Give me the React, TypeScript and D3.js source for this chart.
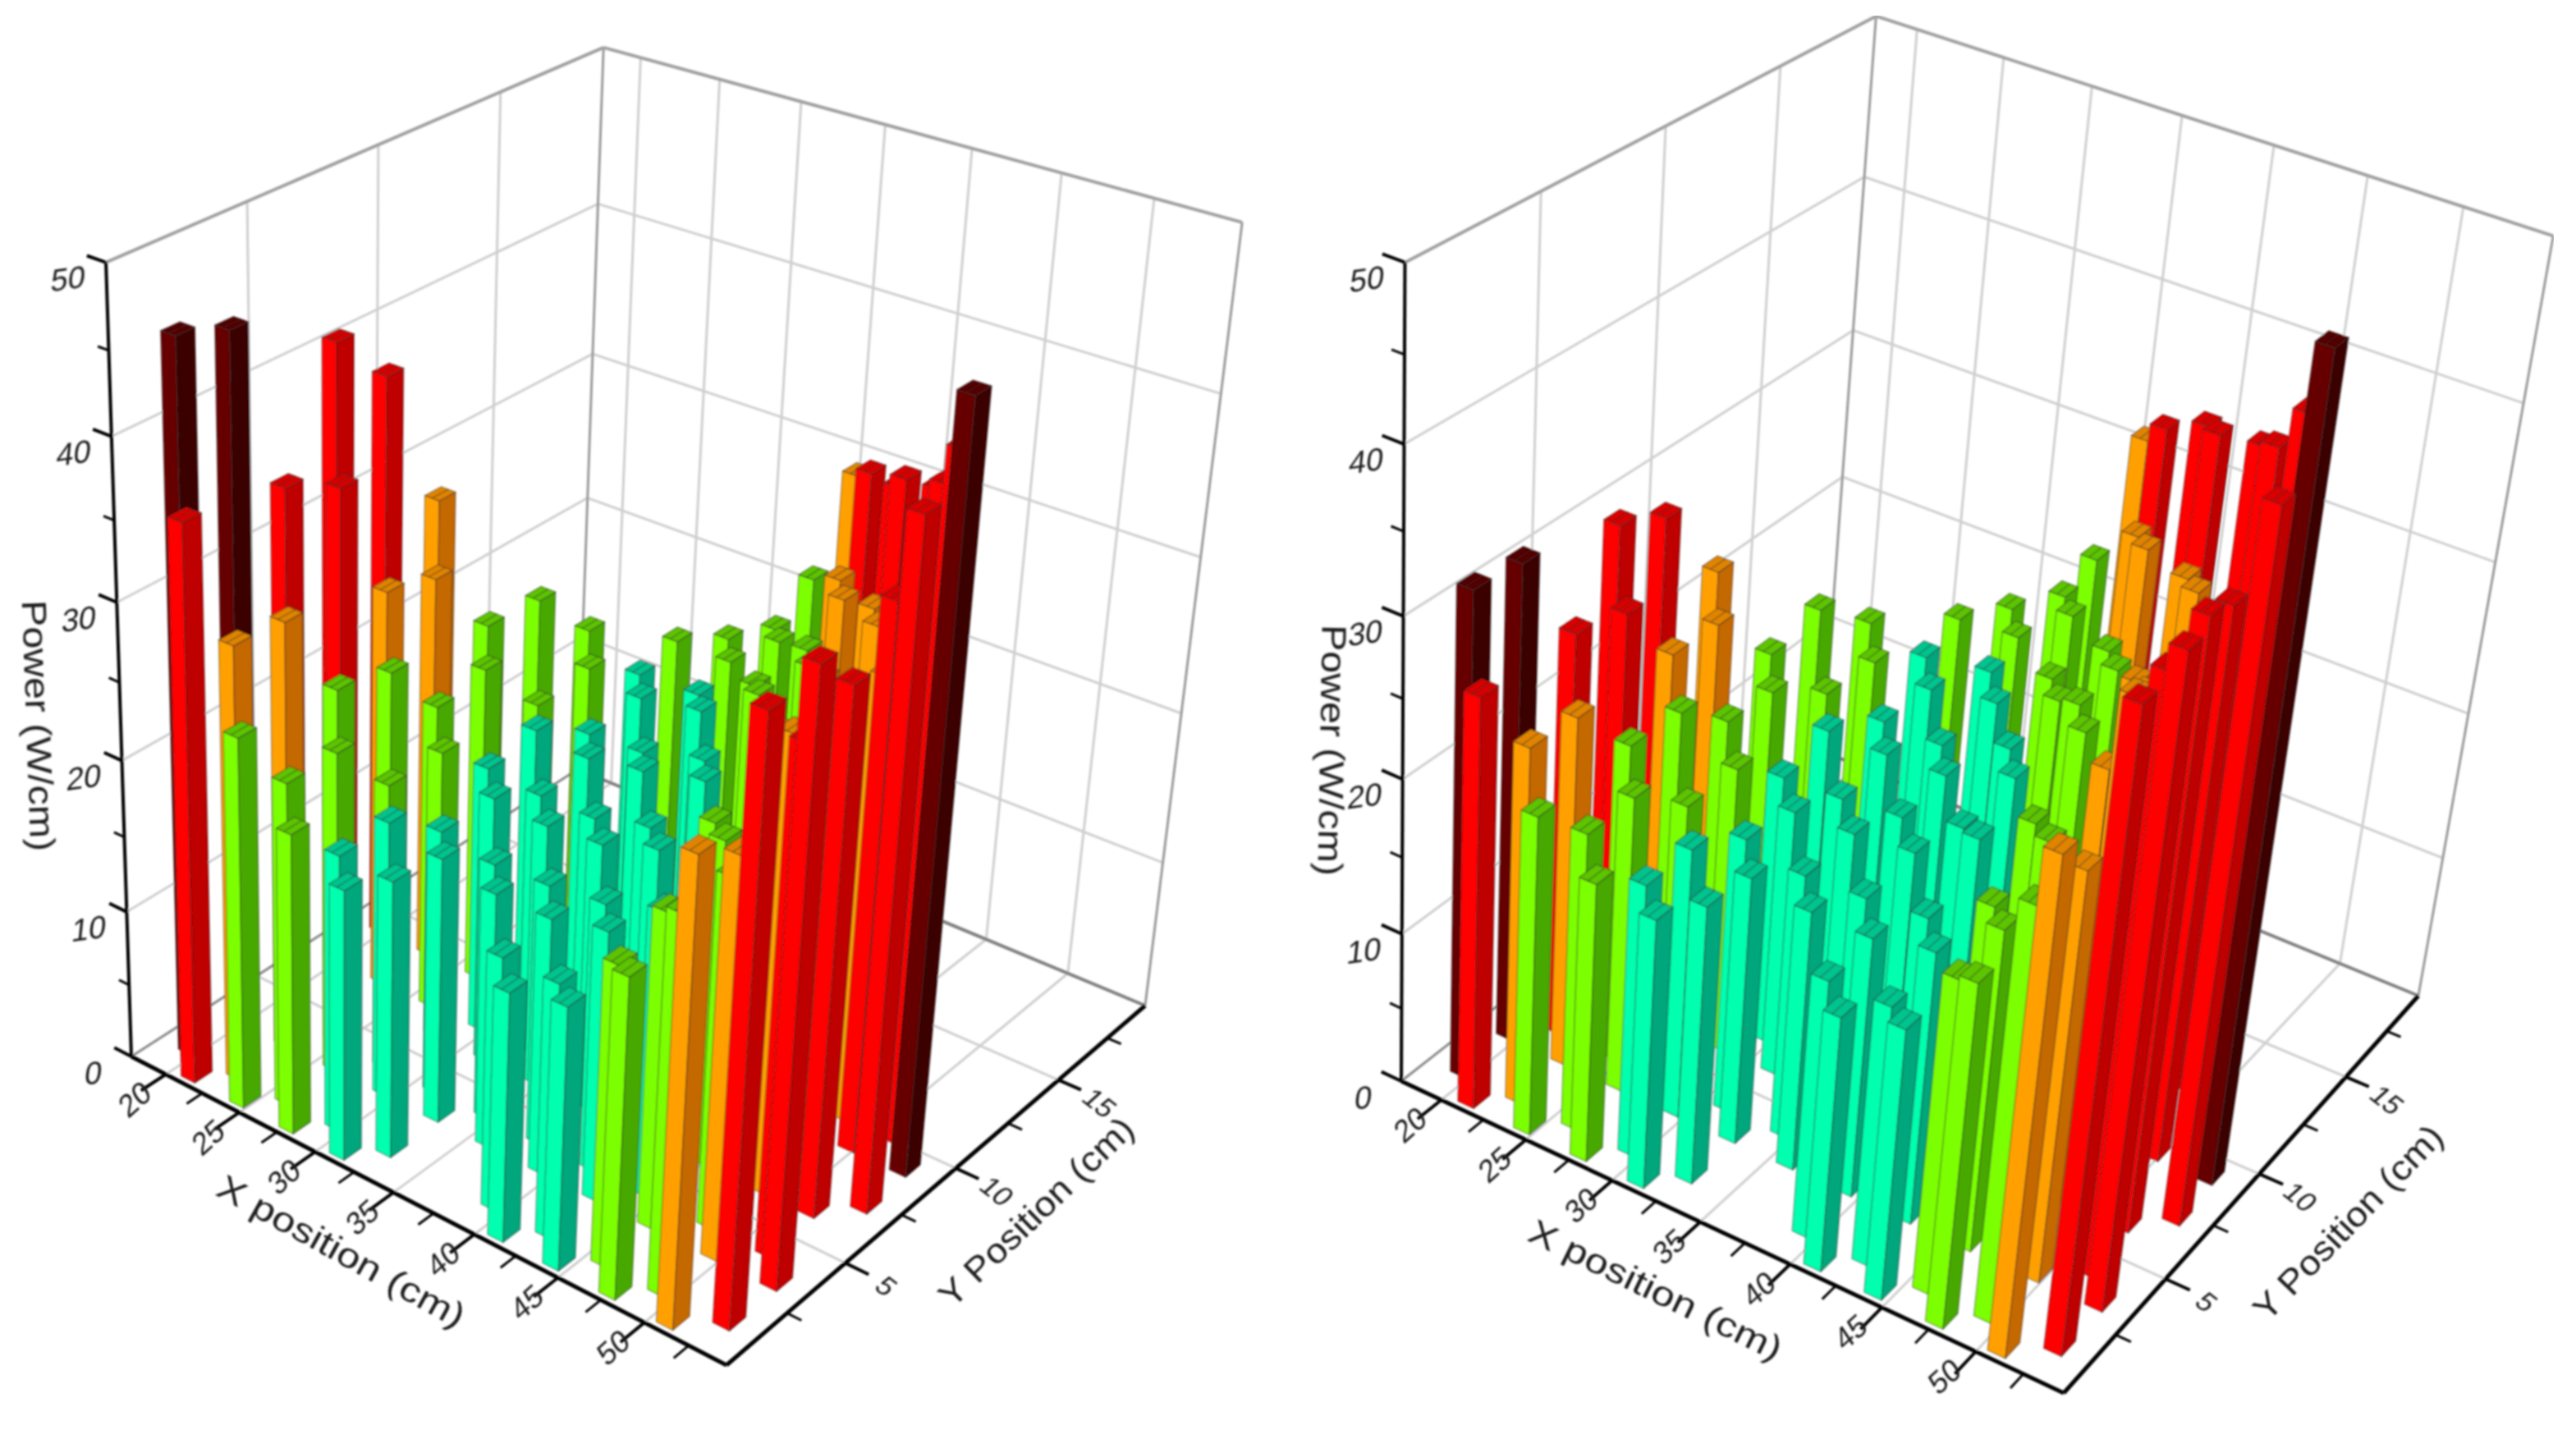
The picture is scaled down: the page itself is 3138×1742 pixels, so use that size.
import React from 'react';
import * as d3 from 'd3';

// Bar layout: every bar sits on one of the rows (Y position) and one of the
// oblique "chains" of the tube pattern, which slide in X from row to row.
const rowY = [0.55, 1.4, 3.35, 4.3, 6.3, 7.3, 9.2, 10.2, 12.2, 13.2, 15, 16, 18, 18.6];
const rowShift = [0, 1.7, 5.06, 6.6, 9.7, 11.6, 14.76, 16.16, 19.13, 20.63, 24.5, 26, 30, 31.5];
const chainX = [21.15, 24.45, 27.75, 31.05, 34.35, 37.65, 40.95, 44.25, 47.55, 50.85, 54.55, 57.93, 60.81, 64.44, 67.43];

const _ = null;
const leftPower = [
  [36.2, 45.8],
  [24.4, 28.6, 44.65],
  [19.8, 21.4, 28.25, 35.1],
  [17.8, 18.3, 21.35, 23.8, 33.5, 41],
  [_, 18.2, 18.35, 19.1, 23.1, 26.6, 37.5],
  [_, _, 17.55, 17.6, 19.3, 20.5, 25.8, 29.5],
  [16.2, 16.6, 16.85, 17, 17.8, 17.9, 21.2, 22.6],
  [17, 16.6, 16.85, 17.2, 17.5, 17.6, 18.6, 18.7, 22.6],
  [20.5, 19.4, 17.65, 17.6, 17.8, 17.6, 18.2, 18.2, 19.4, 20.4],
  [29.3, 24.1, 20.45, 18.7, 19, 18.5, 18.8, 18.4, 18.8, 18.8],
  [_, 37.4, 25.65, 22.6, 21.3, 20.5, 19.8, 19.5, 19.5, 19, 19.3],
  [_, _, 38.1, 32.1, 29.3, 27.5, 25.8, 22.8, 22, 21, 19.3, 19.3],
  [_, _, _, _, 33.4, 29.5, 28.8, 27.8, 25, 24.5, 21.8, 21.1],
  [_, _, _, _, _, 42.8, 35, 29, 29, 28.6, 26, 25.8, 22.5],
  [_, _, _, _, _, _, 47.7, 43.4, 38.7, 37, 34.7, 32.8, 30.6, 29.4],
];
const rightPower = [
  [26.7, 31.5],
  [20.9, 23.4, 31.1],
  [18.3, 19.6, 23.1, 26.6],
  [17.7, 18, 19.6, 21.1, 25.9, 29.6],
  [_, 18.3, 17.9, 18.8, 21.1, 22.9, 28.3],
  [_, _, 17.7, 18.3, 19, 20.1, 22.9, 24.7],
  [16.7, 17, 17.2, 17.6, 17.8, 18, 20, 20.8],
  [17.7, 17.1, 17.2, 17.8, 18, 18.2, 19, 19.7, 21.8],
  [22.3, 20.5, 18, 18.2, 18.4, 18.6, 19, 19.4, 19.8, 20.7],
  [31.6, 26.7, 21.1, 20.6, 20.9, 19.5, 19.2, 19.4, 19.5, 19.9],
  [_, 40, 26.6, 22, 22.5, 21.6, 20.8, 20.9, 20.3, 20.6, 20.5],
  [_, _, 40.9, 38, 33, 26.6, 25.3, 25.3, 22, 21.7, 20.8, 21],
  [_, _, _, _, 39, 32, 29, 28, 25.3, 24.8, 23.5, 23.1],
  [_, _, _, _, _, 45, 36, 33, 31.8, 31, 29.4, 28.6, 23.4],
  [_, _, _, _, _, _, 51.8, 46.7, 41.8, 40.3, 37.8, 36.8, 33.2, 31.3],
];
// colour class of each bar, one letter per row
const leftLevel = ['rd', 'god', 'ggor', 'ccggrr', '.ccggor', '..ccggoo', 'ccccccgg', 'cccccccgg', 'ggccccccgg', 'oggccccccc', '.rogggccccg', '..rroogggggg', '....rooogggg', '.....rrooooog', '......drrrrrro'];
const rightLevel = ['rd', 'god', 'ggor', 'ccggrr', '.ccggor', '..ccggoo', 'ccccccgg', 'cccccccgg', 'ggccccccgg', 'ogggcccccc', '.rogggccccg', '..rroogggggg', '....rooogggg', '.....rrooooog', '......drrrrrro'];

const xTicks = [20, 25, 30, 35, 40, 45, 50];
const xMinor = [22.5, 27.5, 32.5, 37.5, 42.5, 47.5, 52.5];
const yTicks = [5, 10, 15];
const yMinor = [2.5, 7.5, 12.5, 17.5];
const zTicks = [0, 10, 20, 30, 40, 50];
const zMinor = [5, 15, 25, 35, 45];

const xScale = d3.scaleLinear().domain([17.6, 54.6]).range([0, 1]);
const yScale = d3.scaleLinear().domain([0, 19.5]).range([0, 1]);
const zScale = d3.scaleLinear().domain([0, 50]).range([0, 1]);

const faceColors = d3.scaleOrdinal<string, string[]>()
  .domain(['c', 'g', 'o', 'r', 'd'])
  .range([
    ['#00FFAE', '#00A67C', '#00C48E'],
    ['#7CFF00', '#46A800', '#5CC400'],
    ['#FFA000', '#C46800', '#E08400'],
    ['#FF0000', '#BE0000', '#D80000'],
    ['#660000', '#3A0000', '#520000'],
  ]);

type Pt = [number, number];

function solve3(A: number[][], b: number[]) {
  const m = A.map((r, i) => [...r, b[i]]);
  for (let i = 0; i < 3; i++) {
    let p = i;
    for (let j = i + 1; j < 3; j++) if (Math.abs(m[j][i]) > Math.abs(m[p][i])) p = j;
    [m[i], m[p]] = [m[p], m[i]];
    for (let j = 0; j < 3; j++) {
      if (j === i) continue;
      const f = m[j][i] / m[i][i];
      for (let k = i; k < 4; k++) m[j][k] -= f * m[i][k];
    }
  }
  return m.map((r, i) => r[3] / r[i]);
}

// Perspective camera fitted on the corners of the plot box as they appear in the picture
function makeCamera(floor: Pt[], tops: Pt[]) {
  const [[x0, y0], [x1, y1], [x2, y2], [x3, y3]] = floor;
  const dx1 = x1 - x2, dx2 = x3 - x2, sx = x0 - x1 + x2 - x3;
  const dy1 = y1 - y2, dy2 = y3 - y2, sy = y0 - y1 + y2 - y3;
  const den = dx1 * dy2 - dx2 * dy1;
  const g = (sx * dy2 - dx2 * sy) / den;
  const h = (dx1 * sy - sx * dy1) / den;
  const a = x1 - x0 + g * x1, b = x3 - x0 + h * x3;
  const d = y1 - y0 + g * y1, e = y3 - y0 + h * y3;
  const base = (u: number, v: number) => [a * u + b * v + x0, d * u + e * v + y0, g * u + h * v + 1];
  // third column of the matrix, least squares over the three upright edges
  const corners = [[0, 0], [1, 1], [0, 1]];
  const rows: number[][] = [];
  const rhs: number[] = [];
  corners.forEach(([u, v], i) => {
    const [X, Y, W] = base(u, v);
    const [tx, ty] = tops[i];
    rows.push([1, 0, -tx]); rhs.push(tx * W - X);
    rows.push([0, 1, -ty]); rhs.push(ty * W - Y);
  });
  const ata = [0, 1, 2].map(i => [0, 1, 2].map(j => d3.sum(rows, r => r[i] * r[j])));
  const atb = [0, 1, 2].map(i => d3.sum(rows, (r, n) => r[i] * rhs[n]));
  const [c3, c4, c5] = solve3(ata, atb);
  return (x: number, y: number, z: number): Pt => {
    const [X, Y, W] = base(xScale(x), yScale(y));
    const w = zScale(z);
    return [(X + c3 * w) / (W + c5 * w), (Y + c4 * w) / (W + c5 * w)];
  };
}

const line = d3.line();
const XMIN = 17.6, XMAX = 54.6, YMIN = 0, YMAX = 19.5, ZMAX = 50;

type Title = { x: number; y: number; angle: number };
type ChartProps = {
  power: (number | null)[][];
  level: string[];
  floor: Pt[];
  tops: Pt[];
  powerTitle: Title;
  xTitle: Title;
  yTitle: Title;
};

function Chart({ power, level, floor, tops, powerTitle, xTitle, yTitle }: ChartProps) {
  const cam = makeCamera(floor, tops);

  const bars: { x: number; y: number; p: number; lvl: string; row: number }[] = [];
  power.forEach((col, c) => col.forEach((p, r) => {
    if (p == null) return;
    bars.push({ x: chainX[c] - rowShift[r], y: rowY[r], p, lvl: level[c][r], row: r });
  }));
  // far rows first, then left to right
  bars.sort((a, b) => b.row - a.row || a.x - b.x);

  const hx = 0.47, hy = 0.34;
  const seg = (a: Pt, b: Pt, key: string, stroke: string, w: number) => (
    <path key={key} d={line([a, b]) as string} stroke={stroke} strokeWidth={w} fill="none" />
  );

  const gridLight = '#cfcfcf';
  return (
    <g>
      {/* back walls */}
      {zTicks.slice(1, -1).flatMap(z => [
        seg(cam(XMIN, YMIN, z), cam(XMIN, YMAX, z), `wl${z}`, gridLight, 3),
        seg(cam(XMIN, YMAX, z), cam(XMAX, YMAX, z), `wb${z}`, gridLight, 3),
      ])}
      {yTicks.map(y => seg(cam(XMIN, y, 0), cam(XMIN, y, ZMAX), `wy${y}`, gridLight, 3))}
      {xTicks.map(x => seg(cam(x, YMAX, 0), cam(x, YMAX, ZMAX), `wx${x}`, gridLight, 3))}
      {/* floor */}
      {xTicks.map(x => seg(cam(x, YMIN, 0), cam(x, YMAX, 0), `fx${x}`, gridLight, 3))}
      {yTicks.map(y => seg(cam(XMIN, y, 0), cam(XMAX, y, 0), `fy${y}`, gridLight, 3))}
      {seg(cam(XMIN, YMIN, 0), cam(XMIN, YMAX, 0), 'e1', '#8a8a8a', 3)}
      {seg(cam(XMIN, YMAX, 0), cam(XMAX, YMAX, 0), 'e2', '#808080', 4)}
      {seg(cam(XMIN, YMAX, 0), cam(XMIN, YMAX, ZMAX), 'e3', '#9a9a9a', 3)}
      {seg(cam(XMAX, YMAX, 0), cam(XMAX, YMAX, ZMAX), 'e4', '#9a9a9a', 3)}
      {seg(cam(XMIN, YMIN, ZMAX), cam(XMIN, YMAX, ZMAX), 'e5', '#a0a0a0', 4)}
      {seg(cam(XMIN, YMAX, ZMAX), cam(XMAX, YMAX, ZMAX), 'e6', '#a0a0a0', 4)}

      {/* bars */}
      {bars.map((b, i) => {
        const [light, dark, top] = faceColors(b.lvl);
        const x0 = b.x - hx, x1 = b.x + hx, y0 = b.y - hy, y1 = b.y + hy;
        const front = [cam(x0, y0, 0), cam(x1, y0, 0), cam(x1, y0, b.p), cam(x0, y0, b.p)];
        const side = [cam(x1, y0, 0), cam(x1, y1, 0), cam(x1, y1, b.p), cam(x1, y0, b.p)];
        const lid = [cam(x0, y0, b.p), cam(x1, y0, b.p), cam(x1, y1, b.p), cam(x0, y1, b.p)];
        const edge = { stroke: '#303030', strokeOpacity: 0.5, strokeWidth: 1.4, strokeLinejoin: 'round' as const };
        return (
          <g key={i}>
            <path d={line(front) + 'Z'} fill={light} {...edge} />
            <path d={line(side) + 'Z'} fill={dark} {...edge} />
            <path d={line(lid) + 'Z'} fill={top} {...edge} />
            <path d={line([cam(b.x, y0, b.p), cam(b.x, y1, b.p)]) as string} fill="none" {...edge} />
          </g>
        );
      })}

      {/* axes */}
      {seg(cam(XMIN, YMIN, 0), cam(XMIN, YMIN, ZMAX), 'az', '#000', 4)}
      {seg(cam(XMIN, YMIN, 0), cam(XMAX, YMIN, 0), 'ax', '#000', 5)}
      {seg(cam(XMAX, YMIN, 0), cam(XMAX, YMAX, 0), 'ay', '#000', 5)}

      {zTicks.map(z => seg(cam(XMIN, YMIN, z), cam(XMIN - 1.2, YMIN, z), `tz${z}`, '#000', 4))}
      {zMinor.map(z => seg(cam(XMIN, YMIN, z), cam(XMIN - 0.7, YMIN, z), `mz${z}`, '#000', 3))}
      {xTicks.map(x => seg(cam(x, YMIN, 0), cam(x, YMIN - 0.95, 0), `tx${x}`, '#000', 4))}
      {xMinor.map(x => seg(cam(x, YMIN, 0), cam(x, YMIN - 0.6, 0), `mx${x}`, '#000', 3))}
      {yTicks.map(y => seg(cam(XMAX, y, 0), cam(XMAX + 1.3, y, 0), `ty${y}`, '#000', 4))}
      {yMinor.map(y => seg(cam(XMAX, y, 0), cam(XMAX + 0.8, y, 0), `my${y}`, '#000', 3))}

      {/* labels */}
      <g fontFamily="'Liberation Sans', Arial, sans-serif" fill="#1c1c1c">
        {zTicks.map(z => {
          const [px, py] = cam(XMIN, YMIN, z);
          return (
            <text key={`lz${z}`} transform={`translate(${px - 46},${py + 20}) rotate(-8) skewX(-14)`} fontSize={38} textAnchor="middle" dy="0.35em">{z}</text>
          );
        })}
        {xTicks.map(x => {
          const [px, py] = cam(x, YMIN, 0);
          return (
            <text key={`lx${x}`} transform={`translate(${px - 38},${py + 30}) rotate(-42) skewX(-8)`} fontSize={37} textAnchor="middle" dy="0.35em">{x}</text>
          );
        })}
        {yTicks.map(y => {
          const [px, py] = cam(XMAX, y, 0);
          return (
            <text key={`ly${y}`} transform={`translate(${px + 50},${py + 28}) rotate(38) skewX(-10)`} fontSize={34} textAnchor="middle" dy="0.35em">{y}</text>
          );
        })}
        <text transform={`translate(${powerTitle.x},${powerTitle.y}) rotate(${powerTitle.angle})`} fontSize={42} textAnchor="middle" dy="0.35em" textLength={306} lengthAdjust="spacingAndGlyphs">Power (W/cm)</text>
        <text transform={`translate(${xTitle.x},${xTitle.y}) rotate(${xTitle.angle})`} fontSize={42} textAnchor="middle" dy="0.35em" textLength={338} lengthAdjust="spacingAndGlyphs">X position (cm)</text>
        <text transform={`translate(${yTitle.x},${yTitle.y}) rotate(${yTitle.angle})`} fontSize={42} textAnchor="middle" dy="0.35em" textLength={312} lengthAdjust="spacingAndGlyphs">Y Position (cm)</text>
      </g>
    </g>
  );
}

export default function App() {
  return (
    <svg width={3138} height={1742} viewBox="0 0 3138 1742" style={{ position: 'absolute', left: 0, top: 0, display: 'block', background: '#fff' }}>
      <defs>
        <filter id="soft" x="0" y="0" width="100%" height="100%">
          <feGaussianBlur stdDeviation="0.9" />
        </filter>
      </defs>
      <g filter="url(#soft)">
        <Chart
          power={leftPower}
          level={leftLevel}
          floor={[[160, 1287], [885, 1663], [1395, 1225], [704, 937]]}
          tops={[[125, 316], [1505, 290], [746, 44]]}
          powerTitle={{ x: 47, y: 884, angle: 88 }}
          xTitle={{ x: 416, y: 1524, angle: 29 }}
          yTitle={{ x: 1262, y: 1476, angle: -44 }}
        />
        <Chart
          power={rightPower}
          level={rightLevel}
          floor={[[1707, 1317], [2514, 1697], [2946, 1213], [2220, 915]]}
          tops={[[1716, 324], [3113, 283], [2279, 20]]}
          powerTitle={{ x: 1623, y: 914, angle: 91 }}
          xTitle={{ x: 2017, y: 1571, angle: 26 }}
          yTitle={{ x: 2860, y: 1489, angle: -46 }}
        />
      </g>
    </svg>
  );
}
